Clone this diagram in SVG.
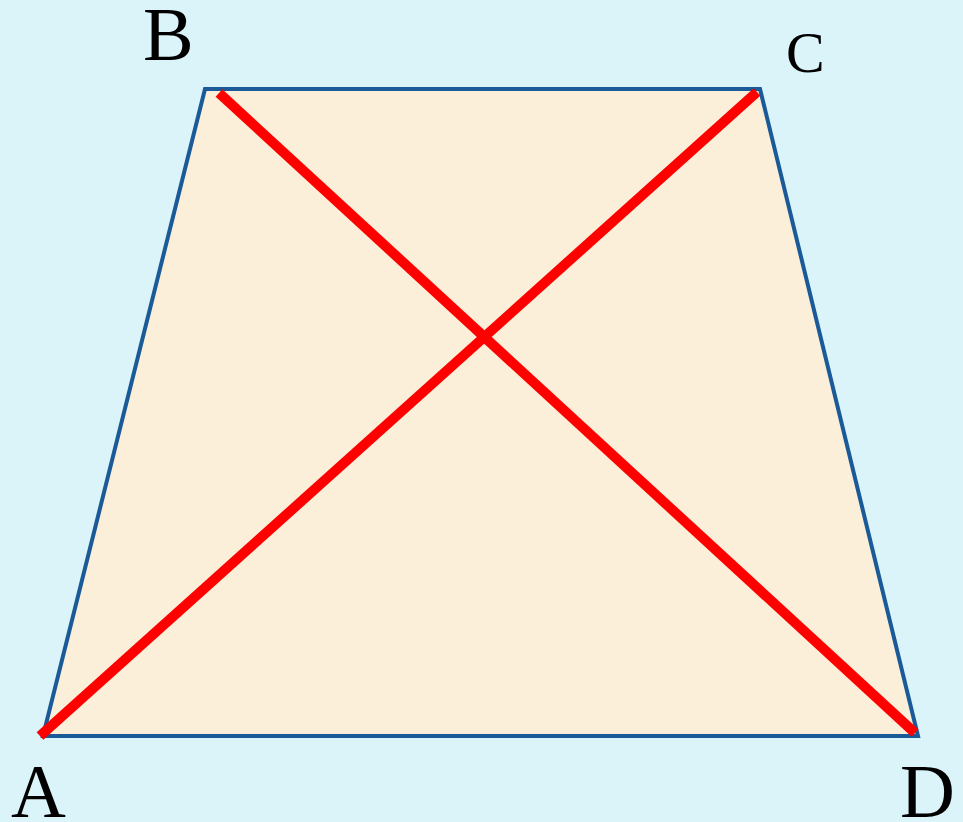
<svg xmlns="http://www.w3.org/2000/svg" width="963" height="822" viewBox="0 0 963 822">
<style>
.lbl{font-family:"Liberation Serif","DejaVu Serif",serif;fill:#000}
.diag{stroke:#FF0000;stroke-width:10;stroke-linecap:butt;fill:none}
</style>
<rect width="963" height="822" fill="#DAF4F9"/>
<g id="trapezoid">
<polygon points="205,89 760,89 918,736 43,736" fill="#FCEFD9" stroke="#1A5A98" stroke-width="4" stroke-linejoin="miter"/>
</g>
<g id="connectors">
<line class="diag" x1="219" y1="93" x2="915" y2="733"/>
<line class="diag" x1="40" y1="736" x2="757" y2="92"/>
</g>
<g id="label-B"><text class="lbl" x="143" y="60" font-size="76">B</text></g>
<g id="label-C"><text class="lbl" x="786" y="72" font-size="58">C</text></g>
<g id="label-A"><text class="lbl" x="11" y="817" font-size="76">A</text></g>
<g id="label-D"><text class="lbl" x="900" y="817" font-size="76">D</text></g>
</svg>
